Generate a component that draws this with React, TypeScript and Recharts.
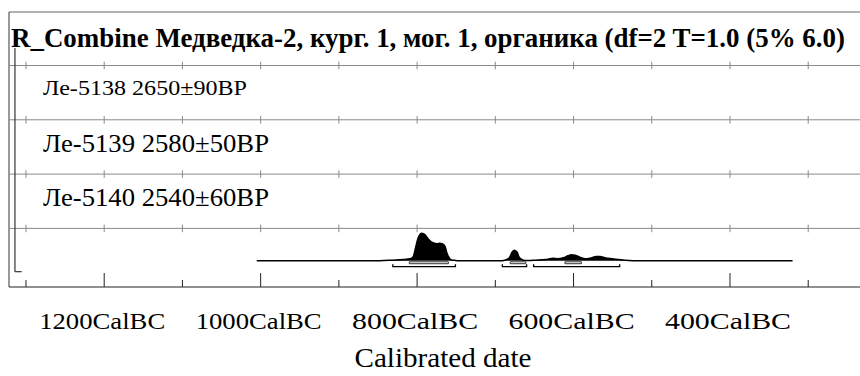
import React from 'react';
import { ComposedChart, Area, XAxis, YAxis, ReferenceLine, ReferenceArea, Customized } from 'recharts';

const TITLE = 'R_Combine Медведка-2, кург. 1, мог. 1, органика (df=2 T=1.0 (5% 6.0)';
const SAMPLES = ['Ле-5138 2650±90BP', 'Ле-5139 2580±50BP', 'Ле-5140 2540±60BP'];
const AXIS_TITLE = 'Calibrated date';

// combined distribution, years AD (negative = BC), probability relative to the peak
const YEARS = [-1005, -848, -831, -818, -809, -805, -802, -799, -794, -790, -786, -782, -778, -775, -771, -768, -764, -762, -759, -757, -751, -745, -694, -688, -682, -679, -676, -672, -670, -666, -662, -656, -649, -636, -626, -620, -613, -607, -603, -598, -592, -585, -579, -571, -566, -560, -551, -543, -534, -515, -320];
const PROB = [0, 0, 0.02, 0.04, 0.07, 0.15, 0.47, 0.8, 1.0, 0.95, 0.8, 0.69, 0.64, 0.62, 0.64, 0.62, 0.51, 0.29, 0.11, 0.04, 0.01, 0, 0, 0.02, 0.11, 0.29, 0.38, 0.31, 0.15, 0.04, 0.01, 0.01, 0.02, 0.04, 0.09, 0.07, 0.11, 0.18, 0.22, 0.2, 0.13, 0.07, 0.09, 0.15, 0.15, 0.11, 0.07, 0.04, 0.02, 0, 0];

const RANGE95 = [[-831, -751], [-691, -660], [-651, -541]];
const RANGE68 = [[-810, -760], [-681, -661], [-611, -590]];

const MAJOR_TICKS = [-1200, -1000, -800, -600, -400];
const MINOR_TICKS = [-1300, -1100, -900, -700, -500, -300];
const ROWS = [0, 1, 2, 3];

const X_MIN = -1321.7;
const X_MAX = -233.8;
const ROW_MIN = -1.079;
const ROW_MAX = 3.985;
const P_MIN = -0.96;
const P_MAX = 9.08;

const FONT = 'Liberation Serif, Times New Roman, serif';

const data = YEARS.map((year, i) => ({ year, p: PROB[i] }));
const allTicks = [...MAJOR_TICKS, ...MINOR_TICKS].sort((a, b) => a - b);

const AxisTick = (props: any) => {
  const { x, y, payload } = props;
  const major = MAJOR_TICKS.includes(payload.value);
  return (
    <g>
      <line x1={x} x2={x} y1={y} y2={y - (major ? 14 : 7)} stroke="#222" strokeWidth={1} />
      {major && (
        <text x={x - 2} y={y + 42} textAnchor="middle" fontFamily={FONT} fontSize={24} fill="#000"
          textLength={126} lengthAdjust="spacingAndGlyphs">
          {`${-payload.value}CalBC`}
        </text>
      )}
    </g>
  );
};

const Bracket = (props: any) => {
  const { x1, y1, x2, y2 } = props;
  return (
    <path d={`M${x1},${y1 - 2.5}L${x1},${y1}L${x2},${y2}L${x2},${y2 - 2.5}`} stroke="#000" strokeWidth={1.3} fill="none" />
  );
};

const Texts = () => (
  <g fontFamily={FONT} fill="#000">
    <text x={11} y={47} fontSize={27} fontWeight="bold" textLength={834} lengthAdjust="spacingAndGlyphs">{TITLE}</text>
    <text x={43} y={95} fontSize={21} textLength={204} lengthAdjust="spacingAndGlyphs">{SAMPLES[0]}</text>
    <text x={43} y={151.5} fontSize={24.5} textLength={226} lengthAdjust="spacingAndGlyphs">{SAMPLES[1]}</text>
    <text x={43} y={206} fontSize={24.5} textLength={226} lengthAdjust="spacingAndGlyphs">{SAMPLES[2]}</text>
    <text x={443} y={367} fontSize={28} textAnchor="middle" textLength={177} lengthAdjust="spacingAndGlyphs">{AXIS_TITLE}</text>
  </g>
);

export default function App() {
  return (
    <div style={{ position: 'absolute', left: 0, top: 0, width: 860, height: 376, background: '#fff' }}>
      <ComposedChart width={860} height={376} data={data} margin={{ top: 12, right: 0, bottom: 0, left: 9 }}>
        <XAxis
          type="number"
          dataKey="year"
          domain={[X_MIN, X_MAX]}
          allowDataOverflow
          ticks={allTicks}
          interval={0}
          tick={<AxisTick />}
          tickLine={false}
          tickSize={0}
          tickMargin={0}
          axisLine={{ stroke: '#222', strokeWidth: 1.2 }}
          height={89}
        />
        <YAxis yAxisId="row" type="number" domain={[ROW_MIN, ROW_MAX]} allowDataOverflow hide />
        <YAxis yAxisId="p" type="number" domain={[P_MIN, P_MAX]} allowDataOverflow hide />

        {/* frame */}
        <ReferenceLine yAxisId="row" x={X_MIN} stroke="#555" strokeWidth={1.2} />
        <ReferenceLine yAxisId="row" y={ROW_MAX} stroke="#666" strokeWidth={1.2} />

        {/* row separators with 100-year ticks */}
        {ROWS.map((r) => (
          <ReferenceLine key={`row-${r}`} yAxisId="row" y={r} stroke="#8a8a8a" strokeWidth={1} />
        ))}
        {ROWS.flatMap((r) =>
          allTicks.map((t) => (
            <ReferenceLine
              key={`rt-${r}-${t}`}
              yAxisId="row"
              segment={[{ x: t, y: r - 0.07 }, { x: t, y: r + 0.07 }]}
              stroke="#8a8a8a"
              strokeWidth={1}
            />
          ))
        )}

        {/* probability axis */}
        <ReferenceLine yAxisId="row" segment={[{ x: -1314.1, y: 3.32 }, { x: -1314.1, y: -0.797 }]} stroke="#333" strokeWidth={1.2} />
        <ReferenceLine yAxisId="row" segment={[{ x: -1314.1, y: -0.797 }, { x: -1305.5, y: -0.797 }]} stroke="#333" strokeWidth={1.2} />

        <Area
          yAxisId="p"
          type="monotone"
          dataKey="p"
          baseValue={0}
          stroke="#000"
          strokeWidth={1.5}
          fill="#000"
          fillOpacity={1}
          isAnimationActive={false}
          dot={false}
          activeDot={false}
        />

        {RANGE68.map(([a, b], i) => (
          <ReferenceArea key={`r68-${i}`} yAxisId="p" x1={a} x2={b} y1={-0.04} y2={-0.11} fill="#fff" fillOpacity={1} stroke="#333" strokeWidth={1} />
        ))}
        {RANGE95.map(([a, b], i) => (
          <ReferenceLine key={`r95-${i}`} yAxisId="p" segment={[{ x: a, y: -0.219 }, { x: b, y: -0.219 }]} shape={Bracket} />
        ))}

        <Customized component={Texts} />
      </ComposedChart>
    </div>
  );
}
